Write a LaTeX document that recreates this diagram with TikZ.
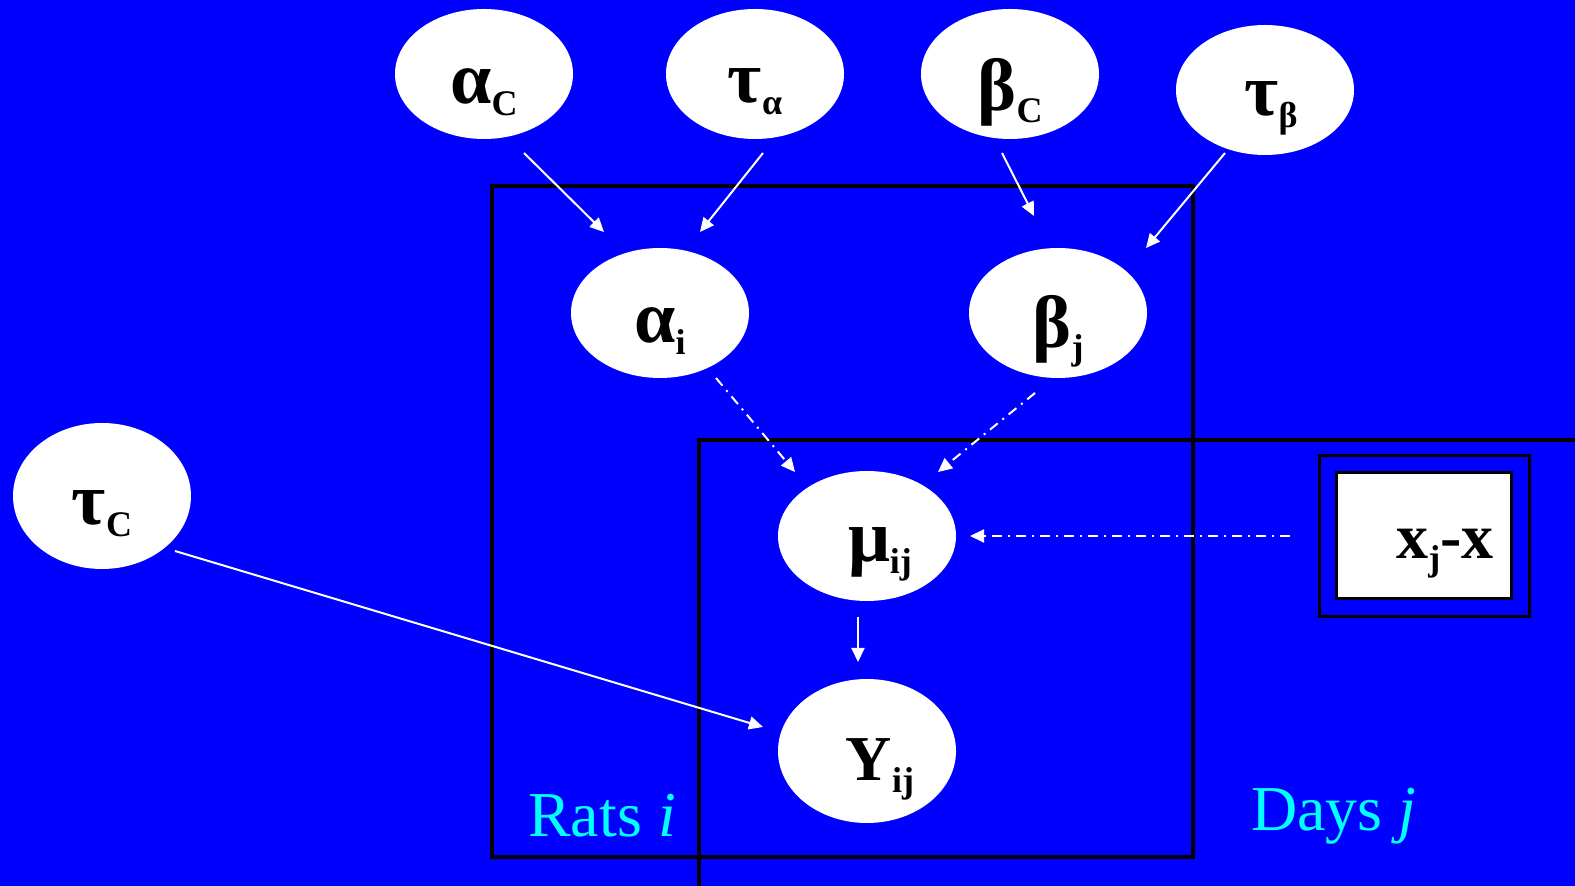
\documentclass[tikz,border=0pt]{standalone}
\usepackage{fontspec}
\setmainfont{Liberation Serif}
\usetikzlibrary{arrows.meta,calc,shapes.geometric}
\definecolor{slideblue}{RGB}{0,0,255}
\definecolor{labelcyan}{RGB}{0,255,255}
\newcommand{\lowsub}[1]{\raisebox{-6pt}{\fontsize{18}{20}\selectfont #1}}
\newcommand{\vlow}[2][0pt]{\hspace*{#1}\raisebox{-9pt}[\height][\depth]{#2}}
\newcommand{\gk}[1]{{\fontsize{37}{40}\selectfont #1}}

\begin{document}
\begin{tikzpicture}[x=0.5pt,y=-0.5pt,>={Triangle[length=7pt,width=6.5pt]},
    var/.style={ellipse,fill=white,minimum width=89pt,minimum height=65pt,inner sep=0pt,font=\fontsize{32}{36}\selectfont\bfseries},
    arr/.style={->,white,line width=1pt},
    detarr/.style={arr,dash pattern=on 5pt off 3pt on 1pt off 3pt},
    plate/.style={draw=black,line width=1.8pt},
    platelabel/.style={text=labelcyan,font=\fontsize{32}{36}\selectfont}]
    \fill[slideblue] (0,0) rectangle (1575,886);
    \useasboundingbox (0,0) rectangle (1575,886);
    % plates
    \draw[plate] (492,186) rectangle (1193,857);
    \draw[plate] (1580,440) -- (699,440) -- (699,890);
    \node[platelabel] (rats) at (602,816) {Rats \textit{i}};
    \node[platelabel] (days) at (1334,816) {Days \textit{j}};
    % variables
    \node[var] (aC) at (484,74) {\vlow{\gk{α}\lowsub{C}}};
    \node[var] (tA) at (755,74) {\vlow{\gk{τ}\lowsub{α}}};
    \node[var] (bC) at (1010,74) {\vlow{\gk{β}\lowsub{C}}};
    \node[var] (tB) at (1265,90) {\vlow[6pt]{\gk{τ}\lowsub{β}}};
    \node[var] (aI) at (660,313) {\vlow{\gk{α}\lowsub{i}}};
    \node[var] (bJ) at (1058,313) {\vlow{\gk{β}\lowsub{j}}};
    \node[var,minimum height=73pt] (tC) at (102,496) {\vlow{\gk{τ}\lowsub{C}}};
    \node[var] (mu) at (867,536) {\vlow[13pt]{\gk{μ}\lowsub{ij}}};
    \node[var,minimum height=72pt] (Y) at (867,751) {\vlow[13pt]{Y\lowsub{ij}}};
    \node[draw=black,line width=1.5pt,fill=white,minimum width=87.5pt,minimum height=63pt,inner sep=0pt,
      font=\fontsize{32}{36}\selectfont\bfseries] (xb) at (1424,536) {\vlow[21pt]{x\lowsub{j}-x}};
    \draw[line width=1.5pt] ($(xb.north west)+(-16,-16)$) rectangle ($(xb.south east)+(16,16)$);
    % links
    \draw[arr] ($(aC)+(40,79)$) -- ($(aI)+(-56,-81)$);
    \draw[arr] ($(tA)+(8,79)$) -- ($(aI)+(40,-81)$);
    \draw[arr] ($(bC)+(-8,79)$) -- ($(bJ)+(-24,-97)$);
    \draw[arr] ($(tB)+(-40,63)$) -- ($(bJ)+(88,-65)$);
    \draw[detarr] ($(aI)+(56,65)$) -- ($(mu)+(-72,-64)$);
    \draw[detarr] ($(bJ)+(-23,80)$) -- ($(mu)+(71,-64)$);
    \draw[detarr] ($(xb)+(-134,0)$) -- ($(mu)+(103,0)$);
    \draw[arr] ($(mu)+(-9,81)$) -- ($(Y)+(-9,-89)$);
    \draw[arr] ($(tC)+(73,55)$) -- ($(Y)+(-104,-24)$);
\end{tikzpicture}
\end{document}
